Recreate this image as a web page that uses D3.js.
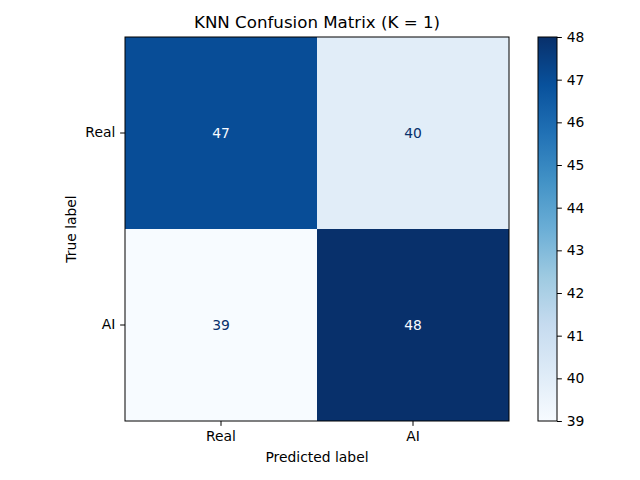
<!DOCTYPE html>
<html><head><meta charset="utf-8">
<script src="https://cdn.jsdelivr.net/npm/d3@7"></script>
<style>body{margin:0;background:#fff}text{font-family:"DejaVu Sans",sans-serif}</style>
</head><body><svg id="c" width="640" height="480"></svg>
<script>
const labels = ["Real", "AI"];
const matrix = [[47, 40], [39, 48]];
const cbTicks = [39, 40, 41, 42, 43, 44, 45, 46, 47, 48];
const title = "KNN Confusion Matrix (K = 1)";

const svg = d3.select("#c");
const L = 125, T = 37, W = 384, H = 384;
const vmin = 39, vmax = 48;
const FS = "13.89px", TK = 4.86;
const blues = ["#f7fbff","#deebf7","#c6dbef","#9ecae1","#6baed6","#4292c6","#2171b5","#08519c","#08306b"];
const cmap = d3.scaleLinear().domain(d3.range(9).map(i => i/8)).range(blues).interpolate(d3.interpolateRgb);
const color = v => cmap((v - vmin) / (vmax - vmin));

const x = d3.scaleBand().domain(labels).range([L, L + W]);
const y = d3.scaleBand().domain(labels).range([T, T + H]);

const cells = [];
matrix.forEach((row, i) => row.forEach((v, j) => cells.push({r: labels[i], c: labels[j], v})));

svg.selectAll("rect.cell").data(cells).enter().append("rect")
  .attr("x", d => x(d.c)).attr("y", d => y(d.r))
  .attr("width", x.bandwidth()).attr("height", y.bandwidth())
  .attr("fill", d => color(d.v));

const thresh = (vmin + vmax) / 2;
svg.selectAll("text.val").data(cells).enter().append("text")
  .attr("x", d => x(d.c) + x.bandwidth()/2).attr("y", d => y(d.r) + y.bandwidth()/2)
  .attr("text-anchor", "middle").attr("dominant-baseline", "central")
  .attr("font-size", FS)
  .attr("fill", d => d.v > thresh ? blues[0] : blues[8])
  .text(d => d.v);

svg.append("rect").attr("x", L).attr("y", T).attr("width", W).attr("height", H)
  .attr("fill", "none").attr("stroke", "#000").attr("stroke-width", 1);

const xAxis = svg.append("g").attr("transform", `translate(0,${T + H})`)
  .call(d3.axisBottom(x).tickSize(TK).tickPadding(TK));
const yAxis = svg.append("g").attr("transform", `translate(${L},0)`)
  .call(d3.axisLeft(y).tickSize(TK).tickPadding(TK));
[xAxis, yAxis].forEach(a => {
  a.select(".domain").remove();
  a.selectAll("text").attr("font-size", FS).attr("font-family", "DejaVu Sans").attr("fill", "#000");
  a.selectAll("line").attr("stroke", "#000");
});

svg.append("text").attr("x", L + W/2).attr("y", T - 9).attr("text-anchor", "middle")
  .attr("font-size", "16.67px").text(title);
svg.append("text").attr("x", L + W/2).attr("y", 462).attr("text-anchor", "middle")
  .attr("font-size", FS).text("Predicted label");
svg.append("text").attr("transform", `translate(76,${T + H/2}) rotate(-90)`).attr("text-anchor", "middle")
  .attr("font-size", FS).text("True label");

// colorbar
const CL = 538, CW = 19;
const cy = d3.scaleLinear().domain([vmin, vmax]).range([T + H, T]);
const defs = svg.append("defs");
const grad = defs.append("linearGradient").attr("id", "g").attr("x1", 0).attr("y1", 1).attr("x2", 0).attr("y2", 0);
blues.forEach((c, i) => grad.append("stop").attr("offset", i/8).attr("stop-color", c));
svg.append("rect").attr("x", CL).attr("y", T).attr("width", CW).attr("height", H).attr("fill", "url(#g)")
  .attr("stroke", "#000").attr("stroke-width", 1);
const cax = svg.append("g").attr("transform", `translate(${CL + CW},0)`)
  .call(d3.axisRight(cy).tickValues(cbTicks).tickSize(TK).tickPadding(TK));
cax.select(".domain").remove();
cax.selectAll("text").attr("font-size", FS).attr("font-family", "DejaVu Sans").attr("fill", "#000");
cax.selectAll("line").attr("stroke", "#000");
</script></body></html>
